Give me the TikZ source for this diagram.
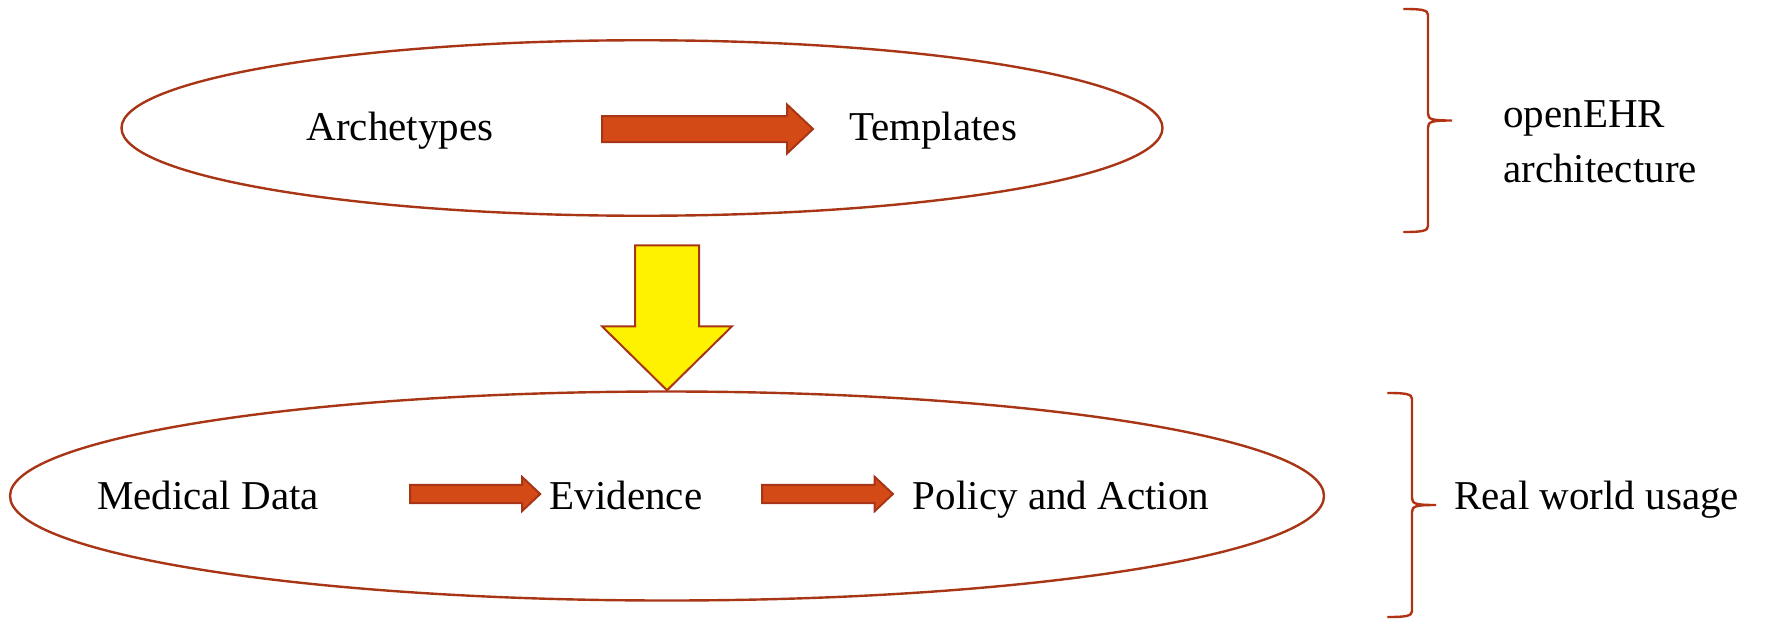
\documentclass[tikz,border=0pt]{standalone}
\usepackage{fontspec}
\setmainfont{Liberation Serif}
\usepackage{tikz}
\usetikzlibrary{%
        arrows.meta,
        shapes.geometric
    }
\definecolor{rimred}{RGB}{168, 54, 22}
\definecolor{arrowred}{RGB}{211, 74, 23}
\definecolor{braced}{RGB}{178, 50, 20}
\tikzset{%
    lbl/.style={font=\fontsize{20.5}{27.5}\selectfont, inner sep=0},
    oval/.style={ellipse, draw=rimred, line width=1.2pt, inner sep=0},
    fatarrow/.pic={%
        code{%
            \draw[fill=arrowred, draw=rimred, line width=1pt, line join=miter]
                (0, 13) -- ({#1-26}, 13) -- ({#1-26}, 24.5) -- (#1, 0)
                -- ({#1-26}, -24.5) -- ({#1-26}, -13) -- (0, -13) -- cycle;
        }
    },
    sidebrace/.pic={%
        code{%
            \draw[braced, line width=1.2pt, line cap=round]
                (0, 0) .. controls (18, 0) and (24, -1) .. (24, -6)
                -- (24, {-#1/2+7}) .. controls (24, {-#1/2+1})
                and (28, {-#1/2}) .. (48, {-#1/2})
                .. controls (28, {-#1/2}) and (24, {-#1/2-1})
                .. (24, {-#1/2-7}) -- (24, {-#1+6})
                .. controls (24, {-#1+1}) and (18, -#1) .. (0, -#1);
        }
    }
}

\begin{document}
\begin{tikzpicture}[x=0.5pt, y=0.5pt]

    \useasboundingbox (0, 0) rectangle (1765, -621);

    \node[oval, minimum width=520.5pt, minimum height=87.75pt]
        (openehr) at (642, -128) {};
    \node[oval, minimum width=657pt, minimum height=104.5pt]
        (usage) at (667, -496) {};

    % yellow arrow, tip resting on the lower oval
    \draw[fill=yellow, draw=rimred, line width=1pt, line join=miter]
        (usage.north) -- ++(-65, 64) -- ++(33, 0) -- ++(0, 81)
        -- ++(64, 0) -- ++(0, -81) -- ++(33, 0) -- cycle;

    \path (602, -129) pic {fatarrow=211}
          (410, -494) pic[scale=0.7] {fatarrow=186}
          (762, -494) pic[scale=0.7] {fatarrow=187};

    \node[lbl, anchor=base] (archetypes) at (400, -140) {Archetypes};
    \node[lbl, anchor=base] (templates) at (933, -140) {Templates};

    \node[lbl, anchor=base] (meddata) at (208, -509) {Medical Data};
    \node[lbl, anchor=base] (evidence) at (626, -509) {Evidence};
    \node[lbl, anchor=base] (policy) at (1061, -509) {Policy and Action};

    \coordinate (ehrtop) at (1404, -9);
    \coordinate (usetop) at (1388, -393);

    \path (ehrtop) pic {sidebrace=223}
          (usetop) pic {sidebrace=224};

    \node[lbl, anchor=base west, align=left] (ehrlabel) at (1503, -182)
        {openEHR\\architecture};
    \node[lbl, anchor=base west] (usagelabel) at (1454, -509)
        {Real world usage};

\end{tikzpicture}
\end{document}
